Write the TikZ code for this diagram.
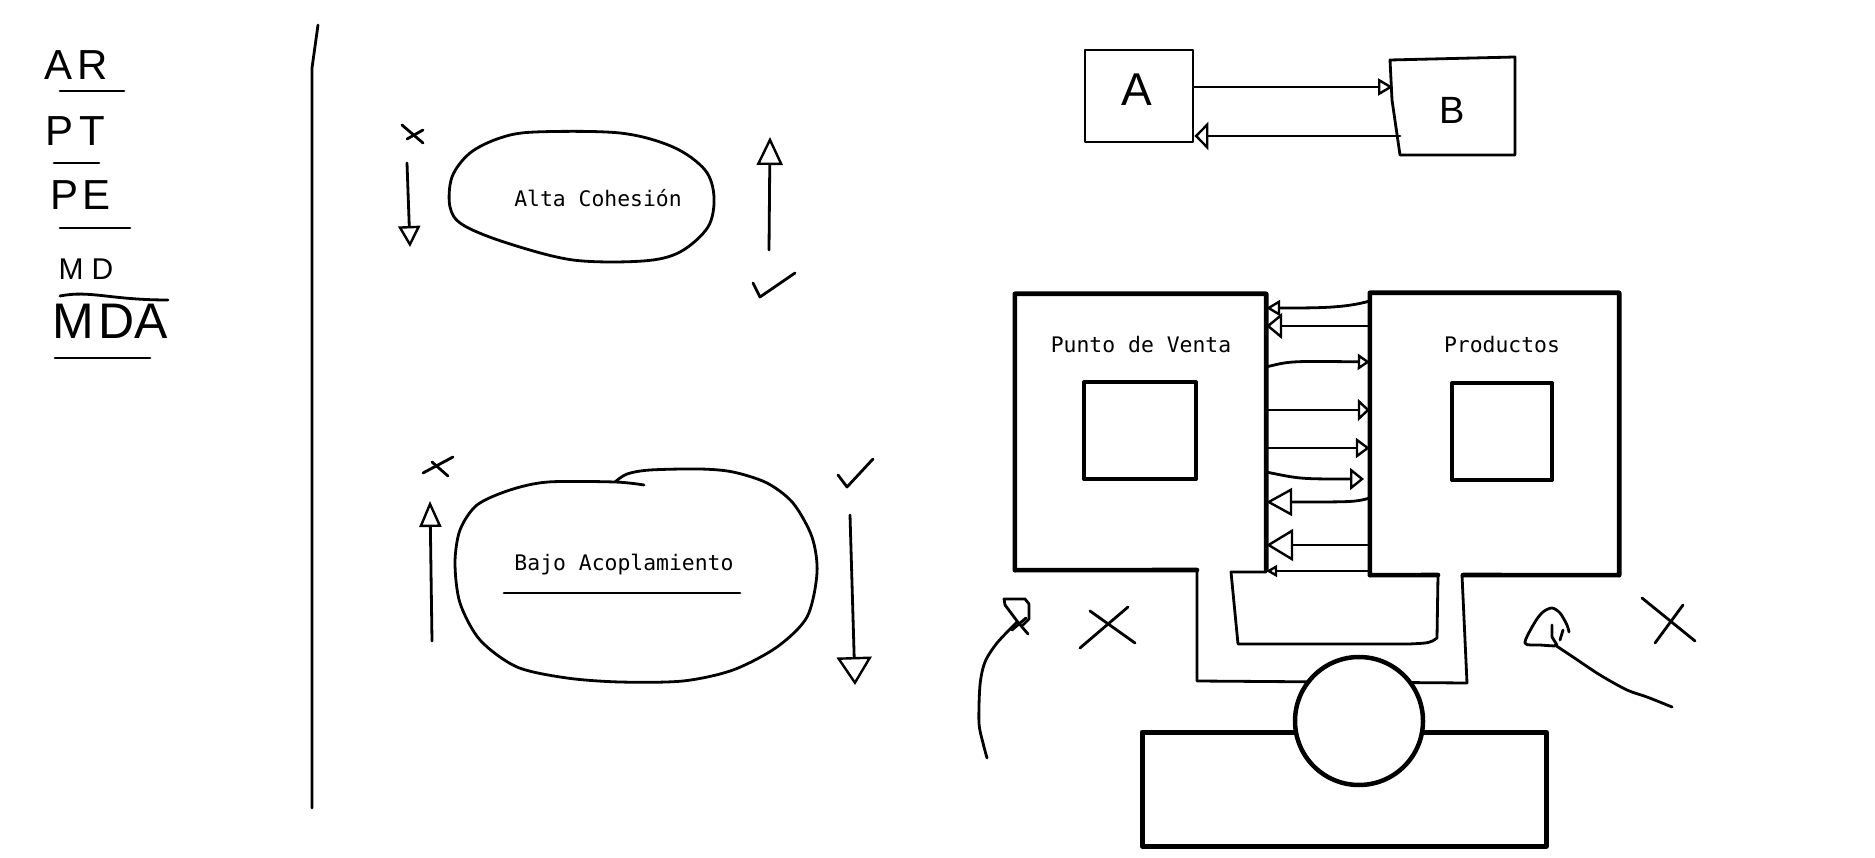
\documentclass[tikz,border=0pt]{standalone}
\usepackage{fontspec}
\setmainfont{Liberation Sans}
\newfontfamily\skmono{DejaVu Sans Mono}
\usetikzlibrary{arrows.meta,calc}
\begin{document}
\begin{tikzpicture}[x=1pt,y=-1pt,line cap=round,line join=round,
  sk/.style={line width=2.8pt},
  bx/.style={line width=4.6pt},
  hand/.style={font=\fontsize{42}{42}\selectfont,inner sep=0pt},
  mono/.style={font=\skmono\fontsize{21.4}{26}\selectfont,inner sep=0pt,anchor=base},
  ah/.style 2 args={-{Triangle[open,length=#1,width=#2,line width=2.4pt]}}]
\useasboundingbox (0,0) rectangle (1875,858);

% ---- left list ----
\node[hand] (ar) at (76,65) {A\hspace{5pt}R};
\draw[sk] (60,91) -- (124,91);
\node[hand] (pt) at (75,131) {P\hspace{6pt}T};
\draw[sk] (54,163) -- (99,163);
\node[hand] (pe) at (81,195) {P\hspace{4pt}E};
\draw[sk] (60,228) -- (130,228);
\node[hand,font=\fontsize{30}{30}\selectfont] (md) at (86,269) {M\hspace{8pt}D};
\draw[sk] (60,296) .. controls (90,290) and (110,300) .. (168,300);
\node[hand,font=\fontsize{50}{50}\selectfont] (mda) at (110,321) {M\hspace{4pt}DA};
\draw[sk] (55,358) -- (150,358);

% ---- divider ----
\draw[sk] (318,25) -- (312,68) -- (312,808);

% ---- Alta Cohesion ----
\draw[sk] plot[smooth cycle,tension=0.55] coordinates {(535,132) (620,133) (673,147) (705,170) (714,197) (708,227) (680,252) (643,261) (573,260) (507,243) (463,225) (450,207) (452,177) (470,153) (500,138)};
\node[mono] (ac) at (598,207) {Alta Cohesión};
\draw[sk] (402,125) -- (423,143);
\draw[sk] (407,139) -- (423,130);
\coordinate (d1s) at (407,163);
\coordinate (d1e) at (410,247);
\draw[sk,ah={21pt}{22pt}] (d1s) -- (d1e);
\coordinate (u1s) at (769,250);
\coordinate (u1e) at (770,137);
\draw[sk,ah={28pt}{26pt}] (u1s) -- (u1e);
\draw[sk] (753,283) -- (760,297) -- (795,273);

% ---- Bajo Acoplamiento ----
\draw[sk] plot[smooth,tension=0.5] coordinates {(615,482) (627,474) (650,470) (700,469) (733,472) (767,483) (793,503) (812,537) (817,573) (807,617) (777,647) (733,670) (683,681) (620,682) (567,678) (517,667) (480,640) (460,603) (455,563) (460,530) (477,505) (510,490) (548,482) (615,482) (644,485)};
\node[mono] (ba) at (624,570) {Bajo Acoplamiento};
\draw[sk] (504,593) -- (740,593);
\draw[sk] (423,473) -- (453,457);
\draw[sk] (432,462) -- (448,476);
\coordinate (u2s) at (432,641);
\coordinate (u2e) at (430,501);
\draw[sk,ah={26pt}{22pt}] (u2s) -- (u2e);
\draw[sk] (838,475) -- (847,487) -- (873,459);
\coordinate (d2s) at (850,515);
\coordinate (d2e) at (855,685);
\draw[sk,ah={28pt}{35pt}] (d2s) -- (d2e);

% ---- A / B ----
\node[draw,sk,minimum width=108pt,minimum height=92pt] (boxA) at (1139,96) {};
\node[hand,font=\fontsize{46}{46}\selectfont] (la) at (1137,90) {A};
\draw[sk] (1390,60) -- (1515,57) -- (1515,155) -- (1400,155) -- (1392,100) -- cycle;
\node[draw=none,minimum width=124pt,minimum height=98pt] (boxB) at (1452,106) {};
\node[hand,font=\fontsize{38}{38}\selectfont] (lb) at (1452,110) {B};
\draw[sk,ah={15pt}{17pt}] (boxA.east |- 0,87) -- (1393,87);
\draw[sk,ah={14pt}{28pt}] (1400,136) -- (boxA.east |- 0,136);

% ---- Punto de Venta / Productos ----
\node[minimum width=251pt,minimum height=276pt,inner sep=0pt] (pv) at (1140.5,432) {};
\node[minimum width=249pt,minimum height=282pt,inner sep=0pt] (prod) at (1494.5,434) {};
\draw[bx] (1197,570) -- (pv.south west) -- (pv.north west) -- (pv.north east) -- (pv.south east);
\draw[bx] (1438,575) -- (prod.south west) -- (prod.north west) -- (prod.north east) -- (prod.south east) -- (1463,575);
\node[draw,line width=4pt,minimum width=112pt,minimum height=97pt] (pvin) at (1140,430.5) {};
\node[draw,line width=4pt,minimum width=100pt,minimum height=97pt] (prin) at (1502,431.5) {};
\node[mono] (lpv) at (1141,353) {Punto de Venta};
\node[mono] (lpr) at (1502,353) {Productos};

\draw[sk,ah={14pt}{16pt}] (prod.west |- 0,301) .. controls (1345,308) and (1320,308) .. (pv.east |- 0,308);
\draw[sk,ah={16pt}{26pt}] (prod.west |- 0,326) -- (pv.east |- 0,326);
\draw[sk,ah={12pt}{16pt}] (pv.east |- 0,367) .. controls (1290,361) .. (prod.west |- 0,362);
\draw[sk,ah={12pt}{22pt}] (pv.east |- 0,410) -- (prod.west |- 0,410);
\draw[sk,ah={14pt}{20pt}] (pv.east |- 0,448) -- (prod.west |- 0,448);
\coordinate (c6) at (1364,479);
\draw[sk,ah={14pt}{22pt}] (pv.east |- 0,472) .. controls (1300,479) .. (c6);
\draw[sk,ah={26pt}{28pt}] (prod.west |- 0,498) .. controls (1355,502) .. (pv.east |- 0,502);
\draw[sk,ah={27pt}{32pt}] (prod.west |- 0,545) -- (pv.east |- 0,545);
\draw[sk,ah={11pt}{12pt}] (prod.west |- 0,571) -- (pv.east |- 0,571);

% channel
\draw[sk] (1197,570) -- (1197,681) -- (1467,683) -- (1462,575);
\draw[sk] (1266,572) -- (1231,572) -- (1238,644) -- (1409,644) .. controls (1430,643) .. (1437,638) -- (1438,575);

% base and wheel
\node[draw,line width=5pt,minimum width=404pt,minimum height=114pt] (base) at (1344,789) {};
\node[draw,circle,line width=4.5pt,fill=white,minimum size=128pt] (wheel) at (1359,721) {};

% ---- scribbles ----
\draw[sk] (1005,605) -- (1004,599) -- (1025,599) -- (1029,604) -- (1029,619) -- (1023,625);
\draw[sk] (1005,605) -- (1017,621) -- (1028,634);
\draw[sk] (1026,618) -- (1012,630);
\draw[sk] plot[smooth] coordinates {(1017,622) (997,643) (985,662) (980,685) (979,723) (983,743) (987,758)};
\draw[sk] (1080,648) -- (1128,607);
\draw[sk] (1090,611) -- (1135,643);

\draw[sk] plot[smooth] coordinates {(1555,646) (1540,645) (1525,643) (1535,622) (1543,612) (1552,608) (1560,613) (1567,625) (1569,632)};
\draw[sk] (1552,625) -- (1552,637) -- (1557,645);
\draw[sk] (1563,630) -- (1560,640);
\draw[sk] plot[smooth] coordinates {(1555,645) (1573,657) (1600,675) (1627,690) (1647,697) (1672,707)};
\draw[sk] (1642,598) -- (1695,641);
\draw[sk] (1683,605) -- (1655,643);
\end{tikzpicture}
\end{document}
